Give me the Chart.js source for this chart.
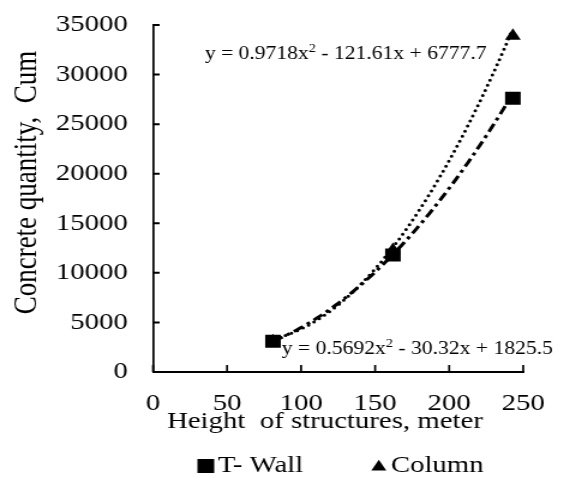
<!DOCTYPE html>
<html lang="en">
  <head>
    <meta charset="UTF-8" />
    <title>Concrete quantity vs height</title>
    <script src="https://cdn.jsdelivr.net/npm/chart.js"></script>
    <style>
      body { margin: 0; background: #fff; overflow: hidden; }
      /* the figure is drawn narrow and stretched sideways */
      #wrap { width: 468px; height: 478px; transform: scaleX(1.2); transform-origin: 0 0; }
    </style>
  </head>
  <body>
    <div id="wrap"><canvas id="qtyChart"></canvas></div>

    <script>
      // measured points
      const heights = [81, 162, 243];
      const tWall = [3100, 11800, 27600];
      const column = [3100, 12300, 33900];

      // polynomial trendlines (a, b, c of ax^2 + bx + c)
      const tWallFit = [0.5692, -30.32, 1825.5];
      const columnFit = [0.9718, -121.61, 6777.7];

      // where each equation sits, in axis units (left edge, middle)
      const tWallEqAt = [87, 2250];
      const columnEqAt = [35, 32000];

      const xTicks = [0, 50, 100, 150, 200, 250];
      const yTicks = [0, 5000, 10000, 15000, 20000, 25000, 30000, 35000];

      const xTitle = "Height  of structures, meter";
      const yTitle = "Concrete quantity,  Cum";

      const serif = '"Liberation Serif", "Times New Roman", serif';

      const pts = (ys) => heights.map((h, i) => ({ x: h, y: ys[i] }));

      // trendline evaluated along the measured range
      function fitLine(coef) {
        const out = [];
        for (let h = heights[0]; h <= heights[heights.length - 1]; h += 2) {
          out.push({ x: h, y: coef[0] * h * h + coef[1] * h + coef[2] });
        }
        return out;
      }

      function eqParts(coef) {
        const b = coef[1] < 0 ? " - " + -coef[1] : " + " + coef[1];
        return ["y = " + coef[0] + "x", "2", b + "x + " + coef[2]];
      }

      // stop tick padding from pushing the plot area in
      const noEdgePad = (s) => {
        s.paddingTop = 0;
        s.paddingBottom = 0;
        s.paddingLeft = 0;
        s.paddingRight = 0;
      };

      // small tick marks pointing into the plot
      const inwardTicks = {
        id: "inwardTicks",
        afterDraw(chart) {
          const { ctx, chartArea: a, scales } = chart;
          ctx.save();
          ctx.strokeStyle = "#000";
          ctx.beginPath();
          ctx.lineWidth = 1.7;
          xTicks.forEach((v) => {
            const px = scales.x.getPixelForValue(v);
            ctx.moveTo(px, a.bottom);
            ctx.lineTo(px, a.bottom - 7);
          });
          ctx.stroke();
          ctx.beginPath();
          ctx.lineWidth = 2;
          yTicks.forEach((v) => {
            const py = scales.y.getPixelForValue(v);
            ctx.moveTo(a.left, py);
            ctx.lineTo(a.left + 5.5, py);
          });
          ctx.stroke();
          ctx.restore();
        },
      };

      // axis titles, set a little off centre of the plot
      const axisTitles = {
        id: "axisTitles",
        afterDraw(chart) {
          const { ctx, chartArea: a } = chart;
          ctx.save();
          ctx.fillStyle = "#000";
          ctx.textAlign = "center";
          ctx.textBaseline = "middle";
          ctx.font = "24px " + serif;
          ctx.fillText(xTitle, (a.left + a.right) / 2 - 11, a.bottom + 50);
          ctx.translate(23, (a.top + a.bottom) / 2 - 16);
          ctx.rotate(-Math.PI / 2);
          ctx.font = "27px " + serif;
          ctx.fillText(yTitle, 0, 0);
          ctx.restore();
        },
      };

      // trendline equations with a raised exponent
      const equations = {
        id: "equations",
        afterDraw(chart) {
          const { ctx, scales } = chart;
          ctx.save();
          ctx.fillStyle = "#000";
          ctx.textBaseline = "middle";
          [
            [tWallFit, tWallEqAt],
            [columnFit, columnEqAt],
          ].forEach(([coef, at]) => {
            const [pre, sup, post] = eqParts(coef);
            let x = scales.x.getPixelForValue(at[0]);
            const y = scales.y.getPixelForValue(at[1]);
            ctx.font = "18px " + serif;
            ctx.fillText(pre, x, y);
            x += ctx.measureText(pre).width;
            ctx.font = "12px " + serif;
            ctx.fillText(sup, x, y - 6);
            x += ctx.measureText(sup).width;
            ctx.font = "18px " + serif;
            ctx.fillText(post, x, y);
          });
          ctx.restore();
        },
      };

      // legend row under the axis title
      const legendRow = {
        id: "legendRow",
        afterDraw(chart) {
          const { ctx, chartArea: a } = chart;
          const items = chart.data.datasets.filter((d) => d.inLegend);
          ctx.save();
          ctx.font = "24px " + serif;
          ctx.fillStyle = "#000";
          ctx.textBaseline = "middle";
          const mark = 14, gap = 3, space = 56;
          const widths = items.map((d) => mark + gap + ctx.measureText(d.label).width);
          const total = widths.reduce((s, w) => s + w, 0) + space * (items.length - 1);
          let x = (a.left + a.right) / 2 - total / 2 + 2;
          const y = chart.height - 12;
          items.forEach((d, i) => {
            Chart.helpers.drawPoint(
              ctx,
              { pointStyle: d.pointStyle, radius: d.keyRadius, borderWidth: 0, rotation: 0 },
              x + mark / 2,
              d.pointStyle === "triangle" ? y + 1 : y
            );
            ctx.fillText(d.label, x + mark + gap, y);
            x += widths[i] + space;
          });
          ctx.restore();
        },
      };

      const ctx = document.getElementById("qtyChart").getContext("2d");

      new Chart(ctx, {
        type: "scatter",
        data: {
          datasets: [
            {
              label: "T- Wall",
              data: pts(tWall),
              pointStyle: "rect",
              pointRadius: 9.2,
              pointHoverRadius: 9.2,
              backgroundColor: "#000",
              borderWidth: 0,
              inLegend: true,
              keyRadius: 9.9,
              order: 1,
            },
            {
              label: "Column",
              data: pts(column),
              pointStyle: "triangle",
              pointRadius: 7.6,
              pointHoverRadius: 7.6,
              backgroundColor: "#000",
              borderWidth: 0,
              inLegend: true,
              keyRadius: 7.2,
              order: 0,
            },
            {
              label: "T- Wall trend",
              data: fitLine(tWallFit),
              showLine: true,
              pointRadius: 0,
              borderColor: "#000",
              borderWidth: 3,
              borderDash: [9, 4, 3, 4],
              order: 3,
            },
            {
              label: "Column trend",
              data: fitLine(columnFit),
              showLine: true,
              pointRadius: 0,
              borderColor: "#000",
              borderWidth: 3,
              borderCapStyle: "round",
              borderDash: [0, 5.5],
              order: 2,
            },
          ],
        },
        options: {
          responsive: true,
          maintainAspectRatio: false,
          animation: false,
          layout: { padding: { top: 25, right: 32, bottom: 46, left: 0 } },
          plugins: { legend: { display: false }, tooltip: { enabled: false } },
          scales: {
            x: {
              min: 0,
              max: 250,
              afterBuildTicks: (s) => { s.ticks = xTicks.map((v) => ({ value: v })); },
              afterFit: (s) => { s.height = 60; noEdgePad(s); },
              grid: { display: false, drawTicks: false },
              border: { display: true, color: "#000", width: 2 },
              ticks: {
                color: "#000",
                padding: 20,
                maxRotation: 0,
                font: { family: serif, size: 24, lineHeight: 1 },
                callback: (v) => String(v),
              },
            },
            y: {
              min: 0,
              max: 35000,
              afterBuildTicks: (s) => { s.ticks = yTicks.map((v) => ({ value: v })); },
              afterFit: (s) => { s.width = 127.5; noEdgePad(s); },
              grid: { display: false, drawTicks: false },
              border: { display: true, color: "#000", width: 1.7 },
              ticks: {
                color: "#000",
                padding: 21,
                font: { family: serif, size: 24, lineHeight: 1 },
                callback: (v) => String(v),
              },
            },
          },
        },
        plugins: [inwardTicks, axisTitles, equations, legendRow],
      });
    </script>
  </body>
</html>
